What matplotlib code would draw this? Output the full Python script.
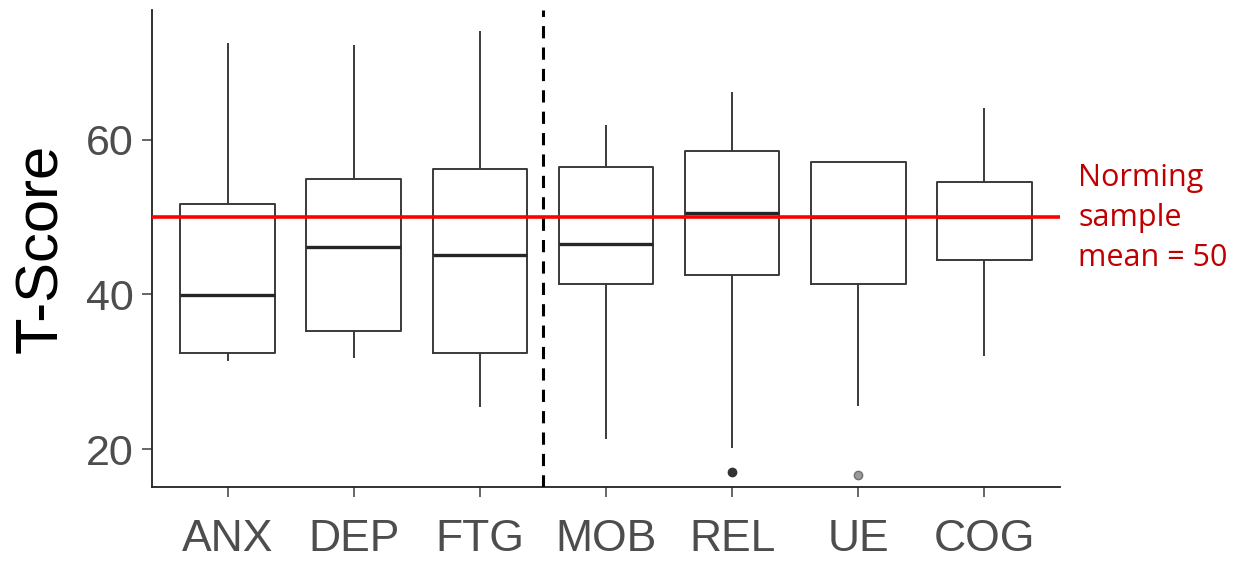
import matplotlib
matplotlib.use("Agg")
import matplotlib.pyplot as plt

# ---------------------------------------------------------------------------
#  Data
# ---------------------------------------------------------------------------
categories = ["ANX", "DEP", "FTG", "MOB", "REL", "UE", "COG"]
whislo = [31.5, 31.9, 25.6, 21.4, 20.3, 25.7, 32.2]
q1     = [32.4, 35.3, 32.4, 41.3, 42.5, 41.3, 44.5]
med    = [39.9, 46.1, 45.1, 46.5, 50.5, 50.0, 50.0]
q3     = [51.7, 54.9, 56.2, 56.5, 58.6, 57.2, 54.6]
whishi = [72.4, 72.2, 73.9, 61.8, 66.1, 57.2, 64.0]
fliers = [[], [], [], [], [17.1], [16.7], []]
norm_mean = 50
split_at = 3.5

plt.rcParams["font.family"] = ["Liberation Sans", "DejaVu Sans"]

fig = plt.figure(figsize=(12.46, 5.64), dpi=100)
ax = fig.add_axes([152/1246, 1 - 487/564, (1060-152)/1246, (487-10)/564])

stats = [dict(label=c, whislo=a, q1=b, med=m, q3=d, whishi=e, fliers=f)
         for c, a, b, m, d, e, f in zip(categories, whislo, q1, med, q3, whishi, fliers)]
pos = list(range(1, len(categories) + 1))
res = ax.bxp(stats, positions=pos, widths=0.75, showcaps=False,
             boxprops=dict(color="#3a3a3a", linewidth=1.4),
             whiskerprops=dict(color="#3a3a3a", linewidth=1.4),
             medianprops=dict(color="#262626", linewidth=2.4),
             flierprops=dict(marker="o", markersize=6, markerfacecolor="#333333",
                             markeredgecolor="#333333"))
# UE outlier appears lighter
res["fliers"][5].set_markerfacecolor("#9a9a9a")
res["fliers"][5].set_markeredgecolor("#707070")

ax.axhline(norm_mean, color="#ff0000", linewidth=2.6, zorder=3)
ax.axvline(split_at, color="black", linewidth=2.2, linestyle=(0, (4, 3)), zorder=3)

ax.set_xlim(0.4, 7.6)
ax.set_ylim(15.1, 76.8)
ax.set_yticks([20, 40, 60])
ax.set_xticks(pos)
ax.set_xticklabels(categories)
ax.tick_params(axis="x", labelsize=32, colors="#4d4d4d", length=7, width=1.2, pad=16)
ax.tick_params(axis="y", labelsize=31, colors="#4d4d4d", length=7, width=1.2, pad=6)
for sp in ["top", "right"]:
    ax.spines[sp].set_visible(False)
for sp in ["left", "bottom"]:
    ax.spines[sp].set_linewidth(1.3)
    ax.spines[sp].set_color("#222222")

ax.set_ylabel("T-Score", fontsize=43, color="black", labelpad=12)

fig.text(1078/1246, 1 - 218/564, "Norming\nsample\nmean = 50", color="#c00000",
         fontsize=22, family=["Open Sans", "DejaVu Sans"], ha="left", va="center",
         linespacing=1.45)

fig.savefig("out.png", dpi=100)
